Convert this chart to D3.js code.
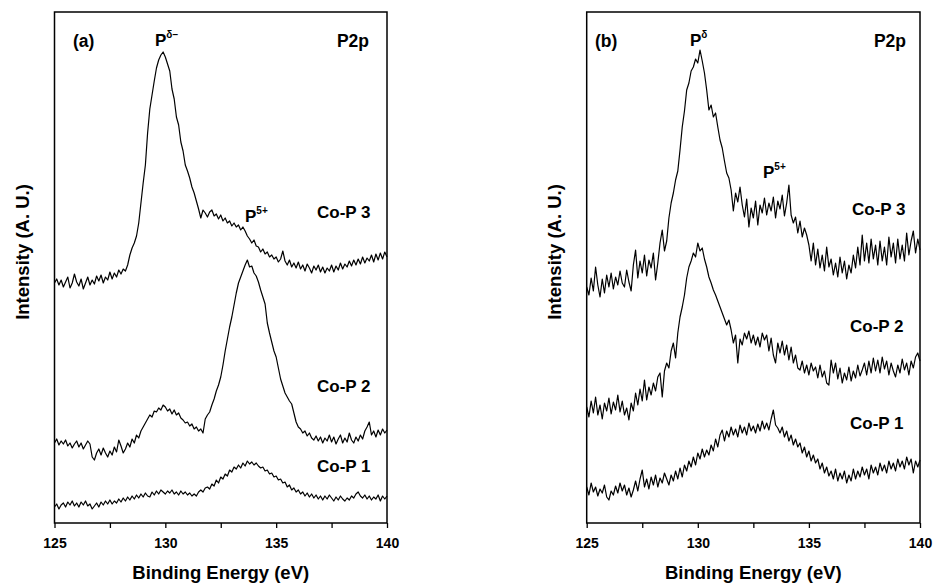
<!DOCTYPE html>
<html>
<head>
<meta charset="utf-8">
<script src="https://cdn.jsdelivr.net/npm/d3@7"></script>
<style>
  body { margin: 0; background: #fff; }
  svg { display: block; font-family: "Liberation Sans", Arial, sans-serif; font-weight: bold; }
</style>
</head>
<body>
<div id="chart"></div>
<script>
// spectra sampled every 0.1 eV from 125 to 140 eV (151 points), offsets already applied
const energyStart = 125;
const energyStep = 0.1;
const xTicks = [125, 130, 135, 140];
const xMinorTicks = [127.5, 132.5, 137.5];
const seriesNames = ['Co-P 3', 'Co-P 2', 'Co-P 1'];

const aCoP3 = [
  240, 244, 238, 243, 236, 241, 246, 235, 240, 249,
  241, 237, 244, 234, 240, 246, 238, 243, 239, 247,
  242, 248, 240, 246, 243, 251, 244, 250, 246, 253,
  249, 254, 252, 258, 268, 275, 280, 287, 300, 320,
  340, 358, 390, 414, 428, 442, 455, 463, 468, 471,
  466, 459, 452, 434, 424, 406, 398, 381, 372, 358,
  352, 345, 336, 330, 322, 314, 305, 313, 310, 306,
  311, 313, 307, 309, 304, 308, 302, 305, 300, 302,
  297, 300, 296, 298, 293, 296, 292, 287, 284, 280,
  283, 277, 276, 271, 274, 269, 271, 266, 268, 264,
  266, 261, 264, 272, 262, 258, 263, 256, 260, 255,
  261, 254, 258, 252, 259, 255, 250, 257, 253, 258,
  251, 256, 250, 255, 252, 258, 251, 257, 253, 260,
  254, 259, 256, 262, 257, 263, 258, 264, 259, 266,
  260, 265, 262, 268, 261, 269, 263, 270, 264, 271,
  266
];
const aCoP2 = [
  80, 84, 78, 82, 79, 83, 77, 80, 75, 79,
  82, 76, 80, 74, 78, 82, 79, 66, 63, 70,
  74, 68, 75, 70, 66, 72, 68, 76, 71, 83,
  77, 70, 74, 80, 76, 84, 80, 88, 85, 92,
  96, 100, 104, 108, 106, 112, 111, 115, 113, 118,
  116, 112, 114, 109, 113, 108, 110, 105, 103, 100,
  101, 97, 99, 94, 96, 92, 94, 90, 104, 108,
  111, 118, 124, 132, 138, 146, 158, 172, 184, 196,
  206, 218, 230, 240, 246, 252, 258, 263, 256, 257,
  250, 247, 241, 233, 226, 219, 200, 190, 181, 172,
  166, 155, 144, 137, 130, 126, 122, 119, 110, 101,
  96, 94, 90, 92, 87, 90, 85, 83, 87, 82,
  86, 80, 85, 82, 88, 81, 86, 79, 84, 88,
  80, 85, 81, 90, 83, 80, 86, 82, 88, 84,
  92, 96, 101, 88, 92, 86, 93, 88, 94, 90,
  93
];
const aCoP1 = [
  16, 19, 14, 18, 20, 16, 21, 18, 22, 17,
  20, 16, 21, 18, 22, 17, 19, 14, 17, 20,
  16, 21, 18, 22, 19, 23, 19, 22, 20, 24,
  21, 25, 22, 26, 23, 27, 24, 28, 25, 29,
  26, 30, 27, 26, 31, 28, 32, 29, 33, 31,
  29, 32, 30, 33, 29, 31, 28, 32, 29, 31,
  28, 30, 27, 29, 27, 31, 33, 31, 35, 36,
  34, 39, 37, 43, 40, 46, 44, 49, 47, 53,
  51, 56, 54, 58, 55, 60, 57, 62, 59, 61,
  58, 60, 57, 55, 56, 52, 53, 49, 50, 46,
  47, 43, 44, 40, 41, 36, 38, 33, 35, 31,
  33, 29, 31, 27, 30, 26, 29, 25, 28, 24,
  27, 23, 27, 24, 28, 25, 22, 26, 23, 27,
  24, 22, 25, 23, 27, 25, 29, 31, 27, 25,
  28, 24, 27, 23, 26, 24, 28, 22, 27, 24,
  27
];
const bCoP3 = [
  236, 228, 245, 232, 256, 238, 226, 244, 230, 248,
  236, 250, 234, 246, 238, 252, 240, 236, 253, 241,
  232, 258, 273, 245, 262, 250, 268, 247, 263, 255,
  270, 243, 260, 280, 293, 272, 282, 305, 320, 330,
  343, 352, 373, 396, 412, 433, 440, 452, 456, 464,
  460, 473, 462, 450, 433, 413, 418, 406, 410, 396,
  383, 375, 362, 350, 345, 333, 312, 330, 321, 336,
  318, 306, 324, 296, 315, 305, 322, 298, 318, 310,
  325, 308, 320, 312, 326, 305, 322, 314, 328, 307,
  320, 338, 308, 300, 306, 290, 302, 286, 295, 288,
  278, 262, 280, 258, 274, 255, 268, 252, 276, 256,
  264, 248, 260, 246, 266, 250, 262, 244, 258, 250,
  268, 255, 276, 258, 288, 262, 280, 260, 284, 264,
  278, 258, 282, 262, 276, 258, 286, 266, 280, 260,
  284, 264, 278, 262, 290, 268, 282, 292, 270, 284,
  273
];
const bCoP2 = [
  116, 106, 122, 110, 126, 108, 118, 104, 120, 112,
  125, 109, 121, 113, 128, 111, 122, 108, 115, 103,
  120, 112, 130, 118, 134, 122, 143, 123, 136, 128,
  140, 132, 146, 150, 126, 152, 160, 155, 172, 180,
  165, 190, 206, 216, 228, 245, 256, 262, 270, 266,
  280, 272, 275, 264, 256, 246, 240, 233, 228, 222,
  216, 210, 204, 198, 203, 193, 180, 188, 160, 184,
  178, 190, 184, 192, 180, 188, 178, 186, 176, 190,
  183, 188, 172, 185, 168, 160, 180, 170, 182, 168,
  178, 163, 176, 160, 168, 155, 153, 162, 150, 158,
  148, 160, 152, 156, 145, 158, 146, 152, 140, 138,
  163, 150, 160, 144, 155, 140, 150, 143, 156, 142,
  152, 145, 158, 147, 153, 160, 148, 162, 150, 165,
  152, 163, 150, 166, 154, 162, 148, 160, 152, 146,
  158, 150, 164, 153, 160, 148, 162, 155, 166, 170,
  162
];
const bCoP1 = [
  36, 28, 40, 31, 36, 27, 34, 30, 38, 26,
  23, 32, 28, 37, 30, 40, 32, 38, 28, 35,
  26, 33, 42, 32, 44, 53, 36, 44, 34, 46,
  38, 48, 36, 45, 40, 50, 44, 38, 48, 42,
  52, 44, 55, 46, 58, 52, 62, 56, 66, 58,
  70, 64, 74, 66, 73, 68, 78, 72, 84, 76,
  88, 93, 82, 92, 86, 96, 88, 94, 86, 98,
  90, 96, 88, 100, 92, 97, 90, 99, 92, 102,
  94, 100, 93, 104, 113, 98, 95, 90, 96, 86,
  92, 82, 88, 78, 84, 76, 80, 70, 76, 66,
  72, 62, 68, 60, 64, 54, 60, 50, 56, 47,
  52, 44, 54, 42, 50, 44, 52, 40, 48, 42,
  54, 44, 52, 46, 56, 48, 54, 44, 58, 50,
  56, 48, 60, 52, 58, 50, 62, 54, 60, 52,
  64, 56, 62, 54, 66, 58, 64, 50, 62, 56,
  63
];

const width = 933;
const height = 586;
const plotTop = 12;
const plotBottom = 523;

const svg = d3.select('#chart').append('svg')
  .attr('width', width)
  .attr('height', height);

class Panel {
  constructor(left, right) {
    this.left = left;
    this.right = right;
    this.g = svg.append('g');
    this.x = d3.scaleLinear().domain([125, 140]).range([left, right]);
    this.y = d3.scaleLinear().domain([0, plotBottom - plotTop]).range([plotBottom, plotTop]);
  }

  appendSpectra(list) {
    const line = d3.line()
      .x((_, i) => this.x(energyStart + i * energyStep))
      .y(d => this.y(d));
    this.g.append('g')
      .selectAll('path').data(list)
      .enter().append('path')
      .attr('d', d => line(d))
      .attr('fill', 'none')
      .attr('stroke', '#000')
      .attr('stroke-width', 1.2)
      .attr('stroke-linejoin', 'round');
    return this;
  }

  appendAxes() {
    const axis = d3.axisBottom(this.x)
      .tickValues(xTicks.concat(xMinorTicks).sort((a, b) => a - b))
      .tickFormat(d => (xTicks.includes(d) ? d : ''))
      .tickSize(5)
      .tickPadding(10);
    const ax = this.g.append('g')
      .attr('transform', `translate(0, ${plotBottom})`)
      .call(axis);
    ax.select('.domain').remove();
    ax.selectAll('line').attr('stroke', '#000').attr('stroke-width', 1.3);
    ax.selectAll('text')
      .attr('font-size', 14)
      .attr('font-family', '"Liberation Sans", Arial, sans-serif')
      .attr('font-weight', 'bold')
      .attr('fill', '#000');

    this.g.append('rect')
      .attr('x', this.left)
      .attr('y', plotTop)
      .attr('width', this.right - this.left)
      .attr('height', plotBottom - plotTop)
      .attr('fill', 'none')
      .attr('stroke', '#000')
      .attr('stroke-width', 1.5);

    this.g.append('text')
      .attr('x', (this.left + this.right) / 2)
      .attr('y', 579)
      .attr('text-anchor', 'middle')
      .attr('font-size', 18.5)
      .text('Binding Energy (eV)');

    this.g.append('text')
      .attr('transform', `translate(${this.left - 26}, 252) rotate(-90)`)
      .attr('text-anchor', 'middle')
      .attr('font-size', 18.5)
      .text('Intensity (A. U.)');
    return this;
  }

  appendLabel(text, x, y, { anchor = 'start', size = 17, sup = null } = {}) {
    const t = this.g.append('text')
      .attr('x', x)
      .attr('y', y)
      .attr('text-anchor', anchor)
      .attr('font-size', size)
      .text(text);
    if (sup) {
      t.append('tspan')
        .attr('dy', -8)
        .attr('font-size', 10)
        .text(sup);
    }
    return this;
  }
}

new Panel(54.5, 387)
  .appendSpectra([aCoP3, aCoP2, aCoP1])
  .appendAxes()
  .appendLabel('(a)', 73, 47, { size: 17.5 })
  .appendLabel('P2p', 369, 47, { anchor: 'end', size: 17.5 })
  .appendLabel('P', 155, 46, { sup: 'δ\u2212' })
  .appendLabel('P', 245, 222, { sup: '5+' })
  .appendLabel(seriesNames[0], 317, 218)
  .appendLabel(seriesNames[1], 317, 392)
  .appendLabel(seriesNames[2], 317, 472);

new Panel(586.7, 920)
  .appendSpectra([bCoP3, bCoP2, bCoP1])
  .appendAxes()
  .appendLabel('(b)', 595, 47, { size: 17.5 })
  .appendLabel('P2p', 906, 47, { anchor: 'end', size: 17.5 })
  .appendLabel('P', 690, 46, { sup: 'δ' })
  .appendLabel('P', 763, 178, { sup: '5+' })
  .appendLabel(seriesNames[0], 852, 215)
  .appendLabel(seriesNames[1], 850, 332)
  .appendLabel(seriesNames[2], 850, 429);
</script>
</body>
</html>
